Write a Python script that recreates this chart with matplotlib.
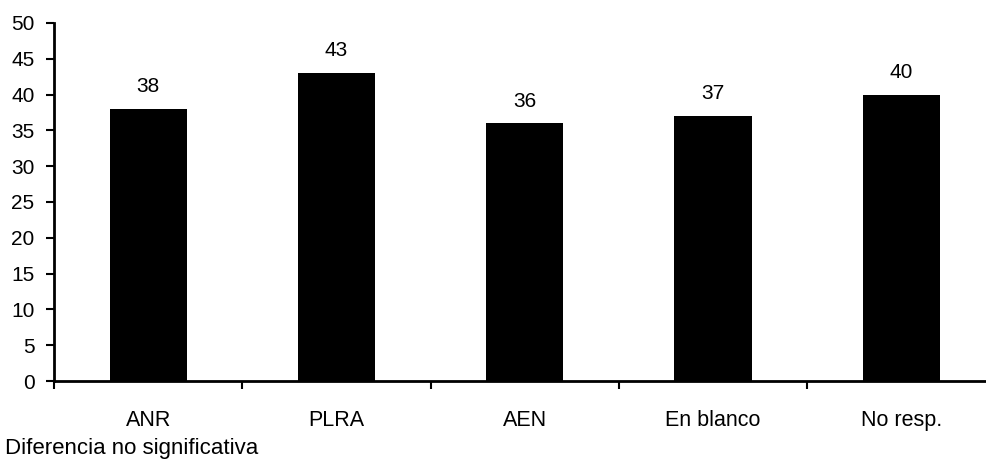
import matplotlib
matplotlib.use("Agg")
import matplotlib.pyplot as plt
from matplotlib.ticker import FixedLocator

categories = ["ANR", "PLRA", "AEN", "En blanco", "No resp."]
values = [38, 43, 36, 37, 40]
yticks = list(range(0, 51, 5))
note = "Diferencia no significativa"

plt.rcParams['font.family'] = ['Liberation Sans', 'DejaVu Sans']

fig = plt.figure(figsize=(9.86, 4.62), dpi=100)
ax = fig.add_axes([0.0548, 0.1753, 1 - 0.0548, 0.775])
x = list(range(len(categories)))
ax.bar(x, values, width=0.41, color="black")
for xi, v in zip(x, values):
    ax.annotate(str(v), (xi, v), xytext=(0, 12), textcoords="offset points",
                ha="center", va="baseline", fontsize=15)

ax.set_xlim(-0.5, 4.45)
ax.set_ylim(0, 50)
ax.set_yticks(yticks)
ax.xaxis.set_major_locator(FixedLocator([i - 0.5 for i in range(len(categories) + 1)]))
ax.xaxis.set_minor_locator(FixedLocator(x))
ax.set_xticklabels([])
ax.set_xticklabels(categories, minor=True)
ax.tick_params(axis="x", which="major", direction="out", length=6, width=1.5)
ax.tick_params(axis="x", which="minor", length=0, pad=21, labelsize=15.5)
ax.tick_params(axis="y", direction="out", length=6, width=1.5, labelsize=15, pad=8)
for s in ["top", "right"]:
    ax.spines[s].set_visible(False)
ax.spines["left"].set_linewidth(2)
ax.spines["bottom"].set_linewidth(2)

fig.text(0.005, 0.018, note, fontsize=16, ha="left", va="baseline")
fig.savefig("out.png", dpi=100)
